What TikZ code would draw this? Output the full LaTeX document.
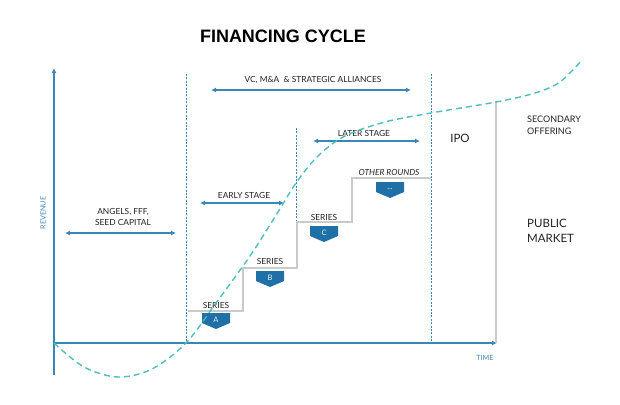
\documentclass[tikz,border=0pt]{standalone}
\usepackage{fontspec}
\setmainfont{Lato}
\newfontfamily\titlefont{Liberation Sans}
\usetikzlibrary{arrows.meta}
\definecolor{axisblue}{HTML}{3A87B7}
\definecolor{badgeblue}{HTML}{1F70A6}
\definecolor{curveteal}{HTML}{4DBDBD}
\definecolor{stepgray}{HTML}{CACACA}
\definecolor{txt}{HTML}{222222}
\newcommand\mybadge[4]{%
  \fill[badgeblue] (#2-14,#3) -- (#2+14,#3) -- (#2+14,#3+10) -- (#2,#3+16) -- (#2-14,#3+10) -- cycle;
  \node[badgetxt] (#1) at (#2,#3+7) {#4};}
\begin{document}
\begin{tikzpicture}[x=1pt,y=-1pt,
  axis/.style={draw=axisblue,line width=1.8pt},
  guide/.style={draw=axisblue,line width=0.9pt,dash pattern=on 2pt off 1.4pt},
  span/.style={draw=axisblue,line width=1.1pt,{Latex[length=5pt,width=5pt]}-{Latex[length=5pt,width=5pt]}},
  stairs/.style={draw=stepgray,line width=1.6pt},
  curvestyle/.style={draw=curveteal,line width=1.4pt,dash pattern=on 6pt off 4pt},
  lbl/.style={text=txt,font=\fontsize{8.4}{10.5}\selectfont,inner sep=0pt,align=center},
  biglbl/.style={text=txt,font=\fontsize{11.5}{15}\selectfont,inner sep=0pt,align=left},
  midlbl/.style={text=txt,font=\fontsize{9}{12}\selectfont,inner sep=0pt,align=left},
  axlbl/.style={text=axisblue,font=\fontsize{7.2}{8}\selectfont,inner sep=0pt},
  badgetxt/.style={text=white!90!badgeblue,font=\fontsize{7.5}{8}\selectfont,inner sep=0pt},
]
\useasboundingbox (0,0) rectangle (620,404);

% title
\node[font=\titlefont\bfseries\fontsize{18}{20}\selectfont,text=black,inner sep=0pt] (title) at (283,36) {FINANCING CYCLE};

% axes
\coordinate (ybot) at (54,375);
\coordinate (ytop) at (54,68);
\coordinate (origin) at (54,343);
\coordinate (xend) at (497,343);
\draw[axis,-{Latex[length=5pt,width=5pt]}] (ybot) -- (ytop);
\draw[axis,-{Latex[length=5pt,width=5pt]}] (origin) -- (xend);
\node[axlbl,rotate=90] (rev) at (43,213) {REVENUE};
\node[axlbl] (time) at (485,358) {TIME};

% guide lines
\coordinate (g1t) at (186,74); \coordinate (g1b) at (186,343);
\coordinate (g2t) at (296,128); \coordinate (g2b) at (296,221);
\coordinate (g3t) at (431,74); \coordinate (g3b) at (431,341);
\draw[guide] (g1t) -- (g1b);
\draw[guide] (g2t) -- (g2b);
\draw[guide] (g3t) -- (g3b);

% stairs
\draw[stairs] (188,311) -- (243,311) -- (243,268) -- (297,268) -- (297,222) -- (352,222) -- (352,178) -- (431,178);
\coordinate (pubt) at (496,101); \coordinate (pubb) at (496,343);
\draw[stairs] (pubt) -- (pubb);

% spans
\coordinate (vcl) at (211,90); \coordinate (vcr) at (411,90);
\draw[span] (vcl) -- (vcr);
\node[lbl] (vc) at (313,80) {VC, M\&A \ \& STRATEGIC ALLIANCES};
\coordinate (ltl) at (313,141); \coordinate (ltr) at (420,141);
\draw[span] (ltl) -- (ltr);
\node[lbl] (later) at (364,133) {LATER STAGE};
\coordinate (esl) at (200,203); \coordinate (esr) at (284,203);
\draw[span] (esl) -- (esr);
\node[lbl] (early) at (244,195) {EARLY STAGE};
\coordinate (agl) at (65,233); \coordinate (agr) at (176,233);
\draw[span] (agl) -- (agr);
\node[lbl] (angels) at (123,217) {ANGELS, FFF,\\SEED CAPITAL};

% series labels
\node[lbl] (sA) at (216,305) {SERIES};
\node[lbl] (sB) at (270,261) {SERIES};
\node[lbl] (sC) at (324,217) {SERIES};
\node[lbl,font=\fontsize{8.4}{10.5}\selectfont\itshape] (sO) at (389,172) {OTHER ROUNDS};
\mybadge{bA}{216}{313}{A}
\mybadge{bB}{270}{271}{B}
\mybadge{bC}{324}{226}{C}
\mybadge{bO}{390}{182}{...}

% right labels
\node[biglbl] (ipo) at (460,138) {IPO};
\node[midlbl,anchor=west] (sec) at (527,125) {SECONDARY\\OFFERING};
\node[biglbl,anchor=west] (pub) at (527,231) {PUBLIC\\MARKET};

% curve
\draw[curvestyle] plot[smooth,tension=0.55] coordinates {(54,343) (84,367) (118,377) (152,369) (186,343) (216,303) (250,256) (278,212) (296,183) (318,156) (345,136) (385,122) (431,113) (496,102) (535,93) (560,82) (582,60)};
\end{tikzpicture}
\end{document}
